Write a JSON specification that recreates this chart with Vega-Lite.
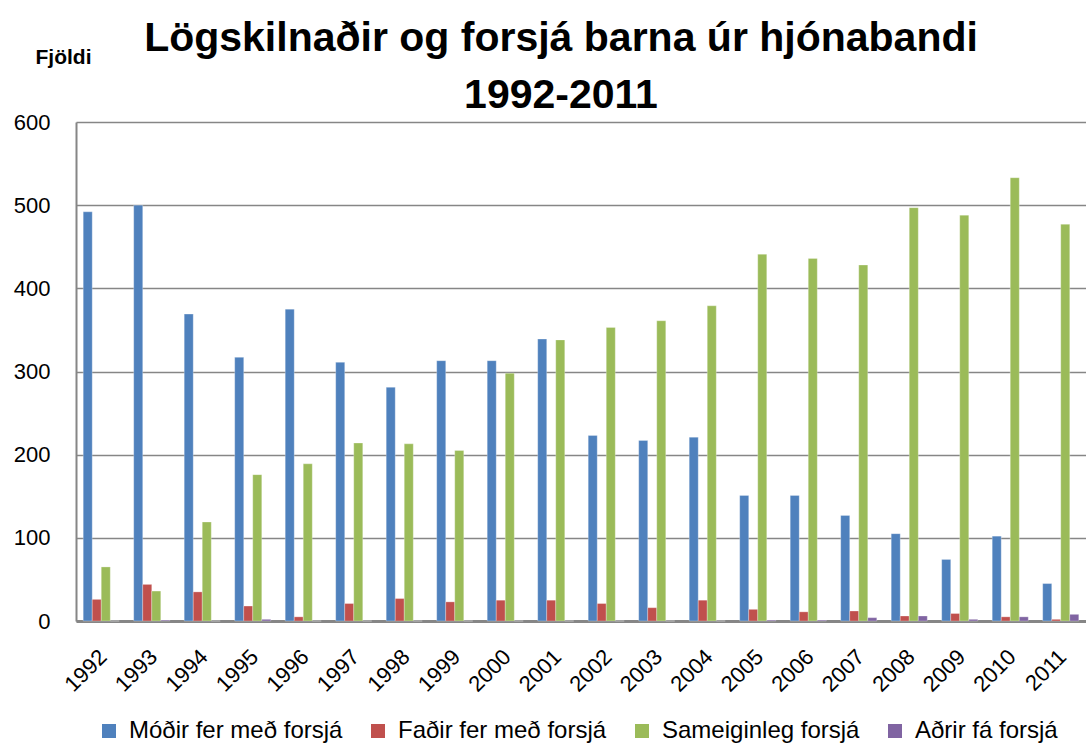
{
  "$schema": "https://vega.github.io/schema/vega-lite/v6.json",
  "width": 1010,
  "height": 499,
  "autosize": {"type": "none"},
  "padding": {"left": 76, "top": 122, "right": 0, "bottom": 123},
  "background": "white",
  "title": {
    "text": ["Lögskilnaðir og forsjá barna úr hjónabandi", "1992-2011"],
    "font": "Liberation Sans",
    "fontSize": 41,
    "fontWeight": "bold",
    "color": "black",
    "lineHeight": 57,
    "anchor": "middle",
    "dx": -20,
    "dy": 81,
    "offset": 10
  },
  "config": {
    "view": {"stroke": null},
    "font": "Liberation Sans"
  },
  "data": {
    "values": [
      {"year": "1992", "series": "Móðir fer með forsjá", "value": 492},
      {"year": "1993", "series": "Móðir fer með forsjá", "value": 500},
      {"year": "1994", "series": "Móðir fer með forsjá", "value": 369},
      {"year": "1995", "series": "Móðir fer með forsjá", "value": 317},
      {"year": "1996", "series": "Móðir fer með forsjá", "value": 375},
      {"year": "1997", "series": "Móðir fer með forsjá", "value": 311},
      {"year": "1998", "series": "Móðir fer með forsjá", "value": 281},
      {"year": "1999", "series": "Móðir fer með forsjá", "value": 313},
      {"year": "2000", "series": "Móðir fer með forsjá", "value": 313},
      {"year": "2001", "series": "Móðir fer með forsjá", "value": 339},
      {"year": "2002", "series": "Móðir fer með forsjá", "value": 223},
      {"year": "2003", "series": "Móðir fer með forsjá", "value": 217},
      {"year": "2004", "series": "Móðir fer með forsjá", "value": 221},
      {"year": "2005", "series": "Móðir fer með forsjá", "value": 151},
      {"year": "2006", "series": "Móðir fer með forsjá", "value": 151},
      {"year": "2007", "series": "Móðir fer með forsjá", "value": 127},
      {"year": "2008", "series": "Móðir fer með forsjá", "value": 105},
      {"year": "2009", "series": "Móðir fer með forsjá", "value": 74},
      {"year": "2010", "series": "Móðir fer með forsjá", "value": 102},
      {"year": "2011", "series": "Móðir fer með forsjá", "value": 45},
      {"year": "1992", "series": "Faðir fer með forsjá", "value": 26},
      {"year": "1993", "series": "Faðir fer með forsjá", "value": 44},
      {"year": "1994", "series": "Faðir fer með forsjá", "value": 35},
      {"year": "1995", "series": "Faðir fer með forsjá", "value": 18},
      {"year": "1996", "series": "Faðir fer með forsjá", "value": 5},
      {"year": "1997", "series": "Faðir fer með forsjá", "value": 21},
      {"year": "1998", "series": "Faðir fer með forsjá", "value": 27},
      {"year": "1999", "series": "Faðir fer með forsjá", "value": 23},
      {"year": "2000", "series": "Faðir fer með forsjá", "value": 25},
      {"year": "2001", "series": "Faðir fer með forsjá", "value": 25},
      {"year": "2002", "series": "Faðir fer með forsjá", "value": 21},
      {"year": "2003", "series": "Faðir fer með forsjá", "value": 16},
      {"year": "2004", "series": "Faðir fer með forsjá", "value": 25},
      {"year": "2005", "series": "Faðir fer með forsjá", "value": 14},
      {"year": "2006", "series": "Faðir fer með forsjá", "value": 11},
      {"year": "2007", "series": "Faðir fer með forsjá", "value": 12},
      {"year": "2008", "series": "Faðir fer með forsjá", "value": 6},
      {"year": "2009", "series": "Faðir fer með forsjá", "value": 9},
      {"year": "2010", "series": "Faðir fer með forsjá", "value": 5},
      {"year": "2011", "series": "Faðir fer með forsjá", "value": 2},
      {"year": "1992", "series": "Sameiginleg forsjá", "value": 65},
      {"year": "1993", "series": "Sameiginleg forsjá", "value": 36},
      {"year": "1994", "series": "Sameiginleg forsjá", "value": 119},
      {"year": "1995", "series": "Sameiginleg forsjá", "value": 176},
      {"year": "1996", "series": "Sameiginleg forsjá", "value": 189},
      {"year": "1997", "series": "Sameiginleg forsjá", "value": 214},
      {"year": "1998", "series": "Sameiginleg forsjá", "value": 213},
      {"year": "1999", "series": "Sameiginleg forsjá", "value": 205},
      {"year": "2000", "series": "Sameiginleg forsjá", "value": 298},
      {"year": "2001", "series": "Sameiginleg forsjá", "value": 338},
      {"year": "2002", "series": "Sameiginleg forsjá", "value": 353},
      {"year": "2003", "series": "Sameiginleg forsjá", "value": 361},
      {"year": "2004", "series": "Sameiginleg forsjá", "value": 379},
      {"year": "2005", "series": "Sameiginleg forsjá", "value": 441},
      {"year": "2006", "series": "Sameiginleg forsjá", "value": 436},
      {"year": "2007", "series": "Sameiginleg forsjá", "value": 428},
      {"year": "2008", "series": "Sameiginleg forsjá", "value": 497},
      {"year": "2009", "series": "Sameiginleg forsjá", "value": 488},
      {"year": "2010", "series": "Sameiginleg forsjá", "value": 533},
      {"year": "2011", "series": "Sameiginleg forsjá", "value": 477},
      {"year": "1992", "series": "Aðrir fá forsjá", "value": 0},
      {"year": "1993", "series": "Aðrir fá forsjá", "value": 1},
      {"year": "1994", "series": "Aðrir fá forsjá", "value": 0},
      {"year": "1995", "series": "Aðrir fá forsjá", "value": 2},
      {"year": "1996", "series": "Aðrir fá forsjá", "value": 0},
      {"year": "1997", "series": "Aðrir fá forsjá", "value": 0},
      {"year": "1998", "series": "Aðrir fá forsjá", "value": 0},
      {"year": "1999", "series": "Aðrir fá forsjá", "value": 0},
      {"year": "2000", "series": "Aðrir fá forsjá", "value": 0},
      {"year": "2001", "series": "Aðrir fá forsjá", "value": 0},
      {"year": "2002", "series": "Aðrir fá forsjá", "value": 0},
      {"year": "2003", "series": "Aðrir fá forsjá", "value": 0},
      {"year": "2004", "series": "Aðrir fá forsjá", "value": 0},
      {"year": "2005", "series": "Aðrir fá forsjá", "value": 1},
      {"year": "2006", "series": "Aðrir fá forsjá", "value": 1},
      {"year": "2007", "series": "Aðrir fá forsjá", "value": 4},
      {"year": "2008", "series": "Aðrir fá forsjá", "value": 6},
      {"year": "2009", "series": "Aðrir fá forsjá", "value": 2},
      {"year": "2010", "series": "Aðrir fá forsjá", "value": 5},
      {"year": "2011", "series": "Aðrir fá forsjá", "value": 8}
    ]
  },
  "mark": {"type": "bar", "stroke": "white", "strokeOpacity": 0.35, "strokeWidth": 0.8},
  "encoding": {
    "x": {
      "field": "year",
      "type": "nominal",
      "scale": {"paddingInner": 0, "paddingOuter": 0},
      "axis": {
        "title": null,
        "labelAngle": -45,
        "labelAlign": "right",
        "labelBaseline": "middle",
        "labelFontSize": 22,
        "labelColor": "black",
        "labelPadding": 32,
        "labelOffset": 2,
        "ticks": false,
        "domainColor": "#868686",
        "domainWidth": 3
      }
    },
    "xOffset": {
      "field": "series",
      "type": "nominal",
      "sort": ["Móðir fer með forsjá", "Faðir fer með forsjá", "Sameiginleg forsjá", "Aðrir fá forsjá"],
      "scale": {"paddingInner": 0, "paddingOuter": 0.8}
    },
    "y": {
      "field": "value",
      "type": "quantitative",
      "scale": {"domain": [0, 600]},
      "axis": {
        "values": [0, 100, 200, 300, 400, 500, 600],
        "title": "Fjöldi",
        "titleAngle": 0,
        "titleAlign": "left",
        "titleBaseline": "middle",
        "titleX": -41,
        "titleY": -65,
        "titleFontSize": 21,
        "titleFontWeight": "bold",
        "titleColor": "black",
        "labelFontSize": 22,
        "labelColor": "black",
        "labelPadding": 26,
        "ticks": false,
        "domainColor": "#868686",
        "domainWidth": 2,
        "gridColor": "#868686",
        "gridWidth": 1.5
      }
    },
    "color": {
      "field": "series",
      "type": "nominal",
      "sort": ["Móðir fer með forsjá", "Faðir fer með forsjá", "Sameiginleg forsjá", "Aðrir fá forsjá"],
      "scale": {
        "domain": ["Móðir fer með forsjá", "Faðir fer með forsjá", "Sameiginleg forsjá", "Aðrir fá forsjá"],
        "range": ["#4F81BD", "#C0504D", "#9BBB59", "#8064A2"]
      },
      "legend": {
        "title": null,
        "orient": "none",
        "direction": "horizontal",
        "legendX": 21,
        "legendY": 597,
        "symbolType": "square",
        "symbolSize": 196,
        "symbolStrokeWidth": 0,
        "labelFontSize": 24,
        "labelColor": "black",
        "labelOffset": 8,
        "columnPadding": 23,
        "labelLimit": 400
      }
    }
  }
}
